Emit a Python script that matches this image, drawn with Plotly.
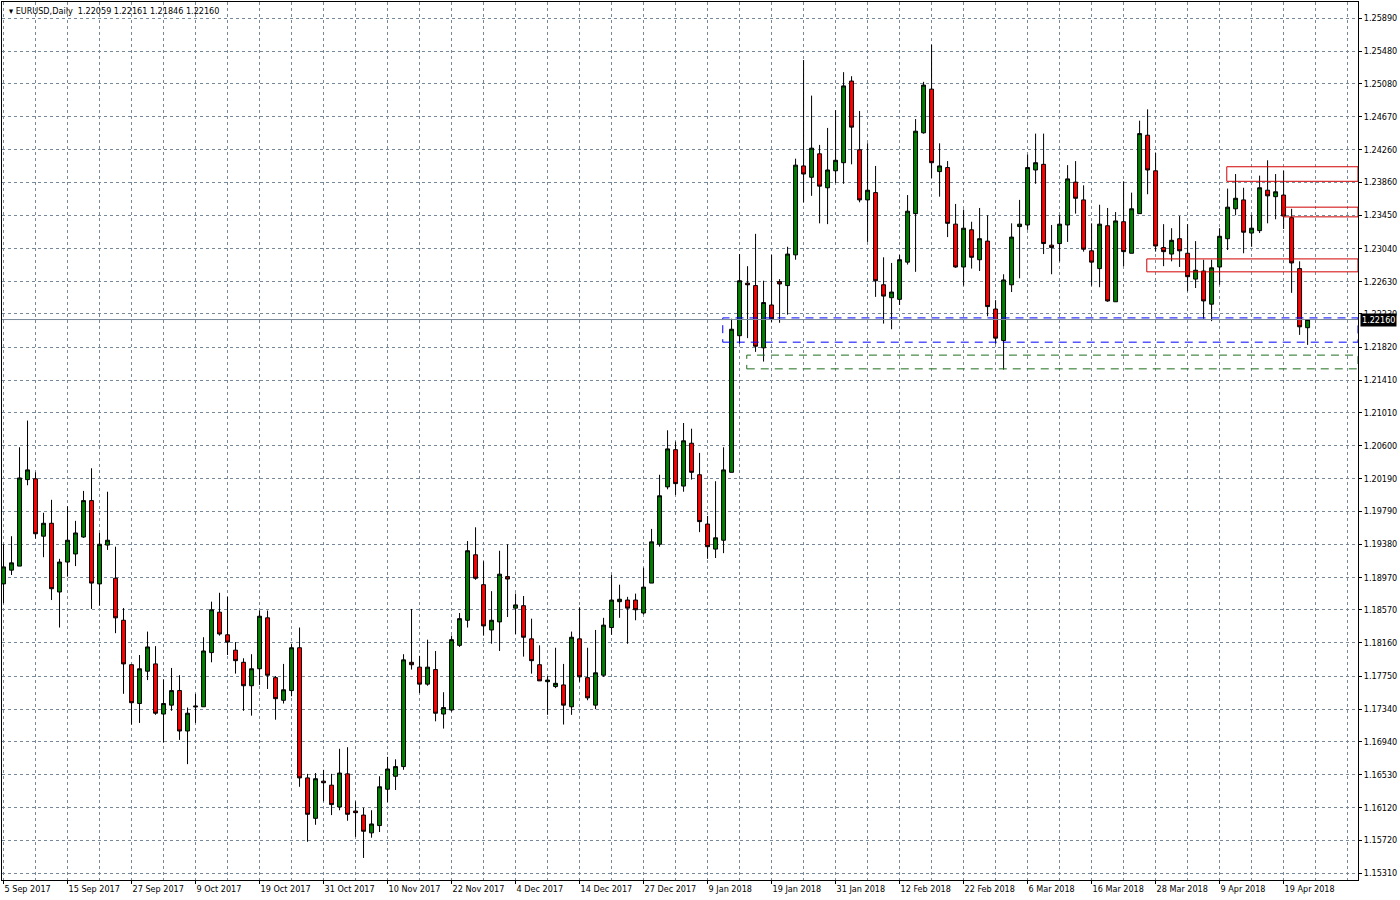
import plotly.graph_objects as go

# EURUSD daily bars, 5 Sep 2017 .. 24 Apr 2018 (bar index on x)
open_ = [
    1.1889, 1.1906, 1.1911, 1.2018, 1.2019, 1.1948, 1.1964, 1.1879, 1.1916, 1.1926,
    1.1947, 1.1992, 1.1889, 1.1937, 1.1896, 1.1844, 1.1789, 1.1741, 1.1781, 1.1790,
    1.1728, 1.1739, 1.1757, 1.1707, 1.1738, 1.1737, 1.1804, 1.1854, 1.1826, 1.1807,
    1.1792, 1.1763, 1.1784, 1.1847, 1.1773, 1.1745, 1.1757, 1.1810, 1.1649, 1.1599,
    1.1645, 1.1640, 1.1613, 1.1654, 1.1608, 1.1603, 1.1581, 1.1590, 1.1635, 1.1651,
    1.1663, 1.1792, 1.1786, 1.1765, 1.1783, 1.1728, 1.1733, 1.1813, 1.1844, 1.1925,
    1.1888, 1.1832, 1.1842, 1.1898, 1.1859, 1.1862, 1.1821, 1.1789, 1.1768, 1.1762,
    1.1764, 1.1737, 1.1821, 1.1773, 1.1739, 1.1776, 1.1835, 1.1867, 1.1869, 1.1869,
    1.1853, 1.1890, 1.1938, 1.2009, 1.2055, 1.2010, 1.2063, 1.2024, 1.1963, 1.1932,
    1.1943, 1.2027, 1.2196, 1.2261, 1.2258, 1.2181, 1.2234, 1.2263, 1.2258, 1.2296,
    1.2406, 1.2392, 1.2421, 1.2379, 1.2400, 1.2410, 1.2511, 1.2426, 1.2364, 1.2373,
    1.2259, 1.2243, 1.2241, 1.2287, 1.2347, 1.2447, 1.2501, 1.2399, 1.2404, 1.2334,
    1.2281, 1.2327, 1.2290, 1.2313, 1.2229, 1.2190, 1.2259, 1.2331, 1.2333, 1.2401,
    1.2408, 1.2308, 1.2310, 1.2333, 1.2386, 1.2364, 1.2301, 1.2279, 1.2332, 1.2238,
    1.2337, 1.2298, 1.2347, 1.2444, 1.2400, 1.2305, 1.2297, 1.2316, 1.2298, 1.2266,
    1.2276, 1.2235, 1.2281, 1.2316, 1.2353, 1.2364, 1.2323, 1.2326, 1.2376, 1.2368,
    1.2370, 1.2342, 1.2279, 1.22059,
]
high = [
    1.1938, 1.1948, 1.2058, 1.2091, 1.2027, 1.1977, 1.1993, 1.1920, 1.1985, 1.1967,
    1.2004, 1.2032, 1.1952, 1.2003, 1.1935, 1.1859, 1.1789, 1.1801, 1.1830, 1.1812,
    1.1771, 1.1785, 1.1776, 1.1736, 1.1753, 1.1823, 1.1867, 1.1878, 1.1873, 1.1817,
    1.1797, 1.1802, 1.1856, 1.1856, 1.1775, 1.1790, 1.1815, 1.1835, 1.1654, 1.1655,
    1.1659, 1.1654, 1.1685, 1.1687, 1.1620, 1.1612, 1.1609, 1.1651, 1.1675, 1.1672,
    1.1802, 1.1858, 1.1800, 1.1820, 1.1806, 1.1755, 1.1825, 1.1853, 1.1942, 1.1959,
    1.1917, 1.1880, 1.1930, 1.1938, 1.1877, 1.1874, 1.1846, 1.1813, 1.1775, 1.1810,
    1.1790, 1.1830, 1.1860, 1.1810, 1.1832, 1.1847, 1.1900, 1.1888, 1.1873, 1.1877,
    1.1909, 1.1957, 1.2024, 1.2079, 1.2065, 1.2088, 1.2081, 1.2051, 1.1973, 1.2016,
    1.2058, 1.2217, 1.2297, 1.2282, 1.2322, 1.2264, 1.2296, 1.2266, 1.2306, 1.2415,
    1.2537, 1.2493, 1.2432, 1.2453, 1.2475, 1.2522, 1.2517, 1.2474, 1.2434, 1.2406,
    1.2293, 1.2286, 1.2296, 1.2370, 1.2464, 1.2510, 1.2556, 1.2434, 1.2412, 1.2359,
    1.2352, 1.2337, 1.2354, 1.2345, 1.2240, 1.2272, 1.2335, 1.2364, 1.2420, 1.2446,
    1.2446, 1.2333, 1.2345, 1.2407, 1.2412, 1.2382, 1.2335, 1.2358, 1.2354, 1.2349,
    1.2387, 1.2373, 1.2462, 1.2476, 1.2422, 1.2334, 1.2329, 1.2344, 1.2334, 1.2313,
    1.2290, 1.2290, 1.2329, 1.2378, 1.2396, 1.2379, 1.2345, 1.2394, 1.2413, 1.2396,
    1.2400, 1.2353, 1.2288, 1.22161,
]
low = [
    1.1865, 1.1900, 1.1911, 1.2011, 1.1945, 1.1922, 1.1869, 1.1835, 1.1898, 1.1911,
    1.1946, 1.1858, 1.1862, 1.1931, 1.1828, 1.1753, 1.1715, 1.1717, 1.1770, 1.1727,
    1.1693, 1.1732, 1.1696, 1.1666, 1.1717, 1.1737, 1.1792, 1.1825, 1.1801, 1.1778,
    1.1732, 1.1726, 1.1764, 1.1759, 1.1721, 1.1741, 1.1750, 1.1638, 1.1570, 1.1591,
    1.1620, 1.1603, 1.1609, 1.1596, 1.1576, 1.1550, 1.1575, 1.1582, 1.1619, 1.1634,
    1.1659, 1.1783, 1.1754, 1.1763, 1.1719, 1.1710, 1.1731, 1.1811, 1.1835, 1.1894,
    1.1825, 1.1815, 1.1806, 1.1848, 1.1827, 1.1799, 1.1778, 1.1769, 1.1727, 1.1760,
    1.1715, 1.1727, 1.1768, 1.1745, 1.1734, 1.1774, 1.1826, 1.1847, 1.1815, 1.1844,
    1.1851, 1.1890, 1.1935, 1.2006, 1.1999, 1.2003, 1.2018, 1.1953, 1.1920, 1.1921,
    1.1927, 1.2027, 1.2186, 1.2193, 1.2176, 1.2164, 1.2213, 1.2212, 1.2222, 1.2290,
    1.2361, 1.2369, 1.2335, 1.2334, 1.2385, 1.2384, 1.2408, 1.2361, 1.2312, 1.2244,
    1.2211, 1.2204, 1.2234, 1.2284, 1.2275, 1.2446, 1.2391, 1.2368, 1.2318, 1.2280,
    1.2258, 1.2279, 1.2276, 1.2220, 1.2186, 1.2154, 1.2250, 1.2267, 1.2327, 1.2384,
    1.2297, 1.2272, 1.2288, 1.2312, 1.2347, 1.2300, 1.2258, 1.2256, 1.2238, 1.2238,
    1.2282, 1.2298, 1.2347, 1.2371, 1.2300, 1.2282, 1.2288, 1.2281, 1.2251, 1.2255,
    1.2217, 1.2214, 1.2259, 1.2302, 1.2345, 1.2298, 1.2306, 1.2323, 1.2335, 1.2340,
    1.2328, 1.2249, 1.2197, 1.21846,
]
close = [
    1.1910, 1.1915, 1.2020, 1.2030, 1.1951, 1.1964, 1.1883, 1.1916, 1.1943, 1.1952,
    1.1992, 1.1890, 1.1938, 1.1943, 1.1847, 1.1790, 1.1742, 1.1784, 1.1811, 1.1729,
    1.1741, 1.1757, 1.1707, 1.1729, 1.1737, 1.1806, 1.1857, 1.1827, 1.1817, 1.1794,
    1.1763, 1.1784, 1.1849, 1.1776, 1.1747, 1.1758, 1.1810, 1.1649, 1.1604, 1.1648,
    1.1643, 1.1616, 1.1655, 1.1604, 1.1606, 1.1583, 1.1592, 1.1638, 1.1660, 1.1663,
    1.1795, 1.1789, 1.1765, 1.1786, 1.1729, 1.1736, 1.1820, 1.1846, 1.1930, 1.1896,
    1.1837, 1.1844, 1.1901, 1.1895, 1.1863, 1.1823, 1.1794, 1.1769, 1.1770, 1.1766,
    1.1739, 1.1823, 1.1774, 1.1748, 1.1779, 1.1838, 1.1869, 1.1870, 1.1859, 1.1857,
    1.1885, 1.1941, 1.1998, 1.2056, 1.2013, 1.2066, 1.2027, 1.1966, 1.1935, 1.1946,
    1.2030, 1.2204, 1.2264, 1.2259, 1.2183, 1.2237, 1.2217, 1.2260, 1.2297, 1.2407,
    1.2396, 1.2428, 1.2381, 1.2401, 1.2413, 1.2505, 1.2454, 1.2364, 1.2376, 1.2264,
    1.2245, 1.2250, 1.2290, 1.2350, 1.2449, 1.2506, 1.2410, 1.2406, 1.2335, 1.2281,
    1.2329, 1.2293, 1.2316, 1.2232, 1.2193, 1.2265, 1.2318, 1.2334, 1.2404, 1.2410,
    1.2310, 1.2305, 1.2334, 1.2390, 1.2366, 1.2303, 1.2287, 1.2334, 1.2239, 1.2338,
    1.2300, 1.2353, 1.2446, 1.2401, 1.2307, 1.2300, 1.2314, 1.2301, 1.2269, 1.2277,
    1.2239, 1.2280, 1.2319, 1.2355, 1.2366, 1.2324, 1.2329, 1.2379, 1.2369, 1.2374,
    1.2344, 1.2286, 1.2207, 1.22160,
]

date_labels = [
    "5 Sep 2017", "15 Sep 2017", "27 Sep 2017", "9 Oct 2017", "19 Oct 2017",
    "31 Oct 2017", "10 Nov 2017", "22 Nov 2017", "4 Dec 2017", "14 Dec 2017",
    "27 Dec 2017", "9 Jan 2018", "19 Jan 2018", "31 Jan 2018", "12 Feb 2018",
    "22 Feb 2018", "6 Mar 2018", "16 Mar 2018", "28 Mar 2018", "9 Apr 2018",
    "19 Apr 2018",
]
price_ticks = [
    1.15310, 1.15720, 1.16120, 1.16530, 1.16940, 1.17340, 1.17750, 1.18160,
    1.18570, 1.18970, 1.19380, 1.19790, 1.20190, 1.20600, 1.21010, 1.21410,
    1.21820, 1.22230, 1.22630, 1.23040, 1.23450, 1.23860, 1.24260, 1.24670,
    1.25080, 1.25480, 1.25890,
]

# drawn objects: (start bar, low price, high price)
red_boxes = [(152.9, 1.2387, 1.2405), (160.0, 1.2343, 1.2355), (142.9, 1.2275, 1.2291)]
blue_zone = (89.9, 1.2188, 1.2218)
green_zone = (92.9, 1.2155, 1.2172)
bid = 1.22160

x = list(range(len(close)))
x_end = 169.3
grid = "#778899"
font_family = "DejaVu Sans Condensed, Liberation Sans, sans-serif"

fig = go.Figure()
fig.add_trace(
    go.Candlestick(
        x=x,
        open=open_,
        high=high,
        low=low,
        close=close,
        increasing=dict(line=dict(color="black", width=1), fillcolor="#008000"),
        decreasing=dict(line=dict(color="black", width=1), fillcolor="#ff0000"),
        whiskerwidth=0,
        showlegend=False,
    )
)

for x0, y0, y1 in red_boxes:
    fig.add_shape(type="rect", x0=x0, x1=x_end, y0=y0, y1=y1,
                  line=dict(color="#d00000", width=1), layer="above")
fig.add_shape(type="rect", x0=blue_zone[0], x1=x_end, y0=blue_zone[1], y1=blue_zone[2],
              line=dict(color="#0000ff", width=1, dash="8px,6px"))
fig.add_shape(type="rect", x0=green_zone[0], x1=x_end, y0=green_zone[1], y1=green_zone[2],
              line=dict(color="#1e6e1e", width=1, dash="8px,6px"))
fig.add_shape(type="line", x0=-1, x1=x_end, y0=bid, y1=bid,
              line=dict(color=grid, width=1))

fig.add_annotation(
    x=1.0, xref="paper", xanchor="left", xshift=2, y=bid, yref="y",
    text="1.22160", showarrow=False, bgcolor="black", borderpad=1,
    font=dict(color="white", size=9, family=font_family),
)
fig.add_annotation(
    x=0.004, xref="paper", xanchor="left", y=0.998, yref="paper", yanchor="top",
    text="▾ EURUSD,Daily  1.22059 1.22161 1.21846 1.22160", showarrow=False,
    font=dict(color="black", size=9, family=font_family),
)

fig.update_layout(
    width=1400,
    height=900,
    margin=dict(l=2, r=42, t=2, b=20),
    paper_bgcolor="white",
    plot_bgcolor="white",
    font=dict(family=font_family, size=9, color="black"),
    xaxis=dict(
        range=[-0.19, x_end],
        rangeslider=dict(visible=False),
        automargin=False,
        tickmode="array",
        tickvals=list(range(0, 161, 8)),
        ticktext=date_labels,
        tickangle=0,
        ticklabelposition="outside right",
        ticks="outside",
        ticklen=3,
        tickcolor="black",
        showgrid=True,
        gridcolor=grid,
        griddash="3px,3px",
        minor=dict(tick0=0, dtick=4, showgrid=True, gridcolor=grid, griddash="3px,3px"),
        showline=True,
        linecolor="black",
        mirror=True,
        zeroline=False,
    ),
    yaxis=dict(
        range=[1.15227, 1.26088],
        side="right",
        automargin=False,
        tickmode="array",
        tickvals=price_ticks,
        ticktext=[f"{v:.5f}" for v in price_ticks],
        ticks="outside",
        ticklen=3,
        tickcolor="black",
        showgrid=True,
        gridcolor=grid,
        griddash="3px,3px",
        showline=True,
        linecolor="black",
        mirror=True,
        zeroline=False,
    ),
)

# the page's default body margin would shift the chart; drop it
fig.write_html(
    "out.html",
    config={"displayModeBar": False},
    post_script="document.body.style.margin='0';document.body.style.overflow='hidden';",
)
